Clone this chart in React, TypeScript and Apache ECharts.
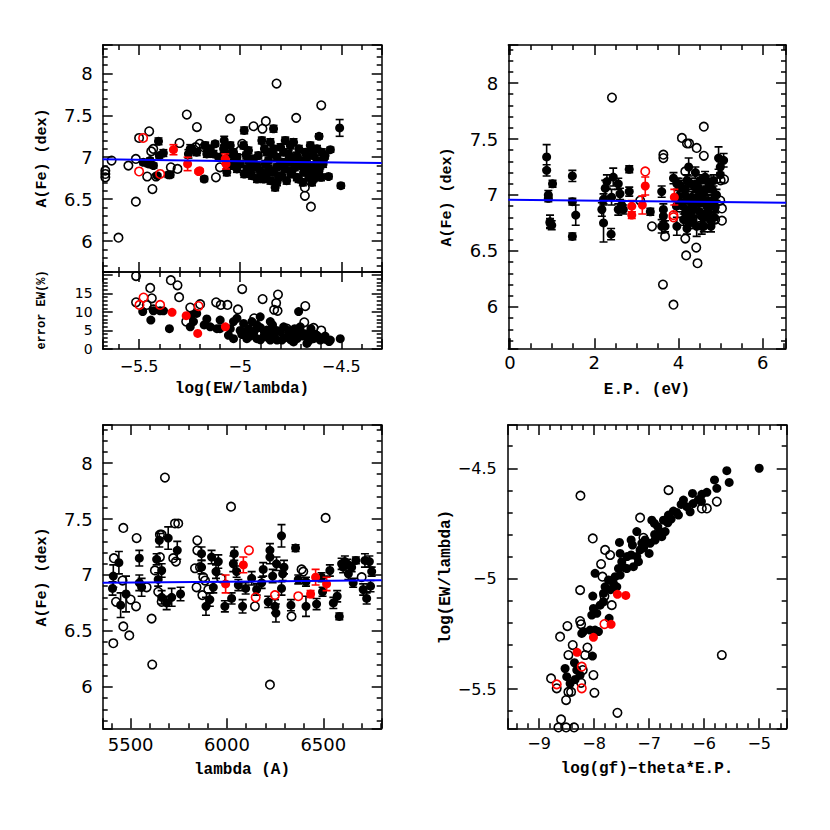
import React, { useEffect, useRef } from "react";
import * as echarts from "echarts";

// ---------- Panel 1: A(Fe) vs log(EW/lambda) ----------
const p1Used: number[][] = [
  [-5.404, 7.19, 0.04], [-5.38, 7.05, 0.04], [-5.355, 6.79, 0.03], [-5.346, 6.79, 0.03],
  [-5.479, 6.94, 0.03], [-5.454, 6.92, 0.03], [-5.429, 6.9, 0.03], [-5.446, 6.96, 0.03],
  [-5.41, 6.78, 0.02], [-5.4, 7.02, 0.03], [-5.247, 7.1, 0.05], [-5.239, 7.1, 0.04],
  [-5.215, 7.06, 0.04], [-5.256, 7.04, 0.05], [-5.178, 6.74, 0.03], [-5.173, 7.14, 0.04],
  [-5.148, 7.1, 0.03], [-5.124, 7.16, 0.03], [-5.165, 7.04, 0.04], [-5.132, 7.04, 0.04],
  [-5.107, 7.0, 0.04], [-5.079, 7.2, 0.05], [-5.082, 7.1, 0.04], [-5.049, 7.14, 0.04],
  [-5.033, 7.06, 0.04], [-5.016, 7.0, 0.04], [-5.041, 6.9, 0.04], [-5.016, 6.86, 0.04],
  [-5.066, 6.82, 0.04], [-4.98, 7.32, 0.04], [-4.983, 7.14, 0.04], [-4.959, 7.08, 0.04],
  [-4.934, 6.98, 0.04], [-4.917, 6.9, 0.04], [-4.901, 6.84, 0.04], [-4.942, 6.78, 0.04],
  [-4.967, 6.86, 0.04], [-4.884, 6.74, 0.04], [-4.893, 7.2, 0.04], [-4.868, 7.06, 0.04],
  [-4.876, 6.92, 0.04], [-4.917, 6.74, 0.04], [-4.835, 7.34, 0.04], [-4.851, 7.18, 0.04],
  [-4.835, 7.1, 0.04], [-4.818, 7.0, 0.04], [-4.802, 6.9, 0.04], [-4.835, 6.82, 0.04],
  [-4.794, 6.78, 0.04], [-4.818, 6.7, 0.04], [-4.827, 6.64, 0.04], [-4.86, 6.86, 0.04],
  [-4.785, 7.06, 0.04], [-4.777, 7.2, 0.04], [-4.752, 7.14, 0.04], [-4.736, 7.18, 0.04],
  [-4.719, 7.02, 0.04], [-4.703, 6.9, 0.04], [-4.744, 6.84, 0.04], [-4.686, 6.82, 0.04],
  [-4.711, 6.74, 0.04], [-4.728, 6.96, 0.04], [-4.678, 7.06, 0.04], [-4.653, 7.14, 0.04],
  [-4.637, 7.02, 0.04], [-4.62, 6.96, 0.04], [-4.604, 6.9, 0.04], [-4.662, 6.84, 0.04],
  [-4.629, 6.8, 0.04], [-4.596, 7.06, 0.04], [-4.645, 6.7, 0.04], [-4.587, 6.98, 0.04],
  [-4.61, 7.25, 0.03], [-4.554, 7.09, 0.03], [-4.563, 6.77, 0.03], [-4.508, 7.35, 0.1],
  [-4.502, 6.66, 0.03], [-4.637, 6.74, 0.03], [-4.95, 6.94, 0.04], [-4.76, 6.94, 0.04],
  [-4.96, 6.96, 0.04], [-4.95, 6.82, 0.04], [-4.93, 6.88, 0.04], [-4.91, 7.02, 0.04],
  [-4.9, 6.78, 0.04], [-4.88, 7.1, 0.04], [-4.87, 6.8, 0.04], [-4.86, 6.96, 0.04],
  [-4.85, 6.72, 0.04], [-4.84, 7.04, 0.04], [-4.82, 6.88, 0.04], [-4.81, 6.76, 0.04],
  [-4.8, 7.12, 0.04], [-4.79, 6.94, 0.04], [-4.78, 6.86, 0.04], [-4.77, 6.72, 0.04],
  [-4.76, 7.04, 0.04], [-4.75, 6.8, 0.04], [-4.74, 6.98, 0.04], [-4.73, 6.88, 0.04],
  [-4.72, 6.76, 0.04], [-4.71, 7.1, 0.04], [-4.7, 6.96, 0.04], [-4.69, 6.7, 0.04],
  [-4.68, 6.92, 0.04], [-4.67, 7.0, 0.04], [-4.66, 6.76, 0.04], [-4.65, 6.9, 0.04],
  [-4.64, 7.08, 0.04], [-4.63, 6.86, 0.04], [-4.62, 7.1, 0.04], [-4.61, 6.84, 0.04],
  [-4.6, 6.76, 0.04], [-4.59, 6.92, 0.04], [-4.58, 7.02, 0.04], [-5.05, 7.04, 0.04],
  [-5.0, 6.92, 0.04], [-4.98, 6.8, 0.04], [-5.03, 6.96, 0.04], [-4.97, 7.02, 0.04],
];
const p1Rejected: number[][] = [
  [-5.602, 6.04], [-5.516, 6.47], [-5.434, 6.62], [-5.264, 7.51], [-5.214, 7.36],
  [-5.05, 7.46], [-4.934, 7.37], [-4.873, 7.43], [-4.723, 7.47], [-4.599, 7.62],
  [-4.82, 7.88], [-5.45, 7.31], [-5.5, 7.23], [-5.3, 7.17], [-5.553, 6.9],
  [-5.516, 6.98], [-5.636, 6.96], [-5.667, 6.84], [-5.667, 6.76], [-5.667, 6.8],
  [-5.46, 6.77], [-5.416, 6.77], [-5.343, 6.88], [-5.31, 6.86], [-5.12, 6.76],
  [-5.44, 7.07], [-5.43, 7.1], [-5.2, 7.16], [-4.99, 7.16], [-4.89, 7.34],
  [-4.68, 6.64], [-4.68, 6.54], [-4.65, 6.41], [-5.1, 6.88], [-5.22, 7.12],
  [-5.18, 7.12], [-5.0, 7.08],
];
const p1RedUsed: number[][] = [
  [-5.33, 7.09, 0.06], [-5.26, 6.92, 0.08], [-5.206, 6.83, 0.02], [-5.2, 6.84, 0.02],
  [-5.074, 6.98, 0.06], [-5.07, 6.92, 0.06],
];
const p1RedRejected: number[][] = [[-5.48, 7.23], [-5.5, 6.83], [-5.396, 6.8]];
const p1Fit: number[][] = [[-5.68, 6.975], [-4.3, 6.93]];

// ---------- Panel 1b: error EW(%) vs log(EW/lambda) ----------
const errUsed: number[][] = [
  [-5.482, 10.1], [-5.442, 7.8], [-5.429, 10.3], [-5.396, 10.3], [-5.379, 10.3],
  [-5.35, 5.5], [-5.247, 6.0], [-5.231, 7.4], [-5.215, 9.6], [-5.239, 9.2],
  [-5.165, 8.1], [-5.178, 6.5], [-5.148, 6.0], [-5.115, 5.5], [-5.099, 7.8],
  [-5.049, 5.5], [-5.058, 3.7], [-5.033, 2.8], [-5.016, 8.3], [-4.992, 3.9],
  [-4.983, 6.9], [-4.959, 5.5], [-4.934, 4.2], [-4.917, 6.5], [-4.901, 8.7],
  [-4.884, 3.3], [-4.868, 5.1], [-4.851, 7.4], [-4.835, 3.7], [-4.818, 2.4],
  [-4.802, 4.6], [-4.785, 6.0], [-4.794, 2.4], [-4.851, 2.4], [-4.917, 2.8],
  [-4.967, 2.8], [-4.744, 4.2], [-4.719, 2.8], [-4.711, 10.1], [-4.703, 6.0],
  [-4.686, 4.2], [-4.67, 3.3], [-4.653, 4.6], [-4.637, 2.8], [-4.62, 3.7],
  [-4.604, 2.4], [-4.579, 2.6], [-4.554, 2.4], [-4.505, 2.8], [-4.736, 1.9],
  [-4.67, 1.5], [-4.769, 3.3], [-4.942, 7.4], [-5.033, 7.4], [-5.0, 5.0],
  [-4.9, 5.8], [-4.76, 5.0], [-4.6, 3.0], [-4.85, 4.5], [-5.1, 5.5],
  [-4.98, 4.5], [-4.95, 3.5], [-4.92, 5.5], [-4.88, 4.5], [-4.86, 3.0],
  [-4.82, 5.0], [-4.78, 3.0], [-4.75, 2.5], [-4.72, 4.0], [-4.69, 3.5],
  [-4.66, 2.2], [-4.63, 4.0], [-4.61, 3.0], [-4.58, 3.5], [-4.56, 2.0],
  [-4.9, 2.5], [-4.84, 6.5], [-4.73, 5.5], [-4.65, 5.5],
];
const errRejected: number[][] = [
  [-5.515, 19.7], [-5.445, 16.5], [-5.343, 18.6], [-5.31, 17.2], [-5.302, 14.0],
  [-5.437, 13.7], [-5.515, 12.6], [-5.462, 11.9], [-5.429, 10.7], [-5.247, 11.2],
  [-5.198, 12.1], [-5.267, 7.4], [-5.119, 12.6], [-5.096, 11.9], [-5.063, 11.9],
  [-5.011, 10.7], [-4.99, 16.2], [-4.889, 13.5], [-4.813, 14.7], [-4.822, 12.4],
  [-4.832, 10.6], [-4.815, 10.3], [-4.678, 11.6], [-4.931, 8.3], [-4.683, 7.2],
  [-4.637, 5.7], [-4.599, 5.0], [-4.769, 5.5],
];
const errRedUsed: number[][] = [[-5.337, 9.9], [-5.267, 9.0], [-5.21, 4.2], [-5.073, 6.0]];
const errRedRejected: number[][] = [[-5.478, 13.9], [-5.498, 11.9], [-5.396, 11.9], [-5.206, 11.6]];
const errTickLabels = [0, 5, 10, 15];

// ---------- Panel 2: A(Fe) vs E.P. ----------
const p3Used: number[][] = [
  [0.87, 7.34, 0.11], [0.87, 7.22, 0.05], [0.91, 7.0, 0.04], [0.91, 6.97, 0.03],
  [1.01, 7.1, 0.03], [0.95, 6.76, 0.06], [0.99, 6.73, 0.04], [0.95, 6.75, 0.04],
  [1.48, 7.17, 0.05], [1.48, 6.94, 0.03], [1.56, 6.82, 0.09], [1.48, 6.63, 0.03],
  [2.18, 6.87, 0.06], [2.22, 6.75, 0.17], [2.22, 6.96, 0.05], [2.26, 7.06, 0.07],
  [2.3, 7.12, 0.06], [2.4, 6.65, 0.05], [2.45, 7.16, 0.08], [2.41, 6.98, 0.07],
  [2.57, 7.1, 0.05], [2.61, 7.01, 0.05], [2.57, 6.87, 0.05], [2.65, 6.91, 0.04],
  [2.83, 7.23, 0.03], [2.83, 7.03, 0.04], [2.69, 6.87, 0.04], [3.33, 6.85, 0.03],
  [3.6, 7.03, 0.05], [3.64, 6.87, 0.05], [3.6, 6.72, 0.06], [3.68, 6.72, 0.05],
  [3.64, 6.81, 0.05], [3.88, 7.15, 0.05], [3.96, 7.1, 0.05], [3.96, 6.72, 0.08],
  [4.0, 6.99, 0.05], [4.08, 6.93, 0.05], [4.16, 7.05, 0.05], [4.2, 7.13, 0.05],
  [4.24, 7.25, 0.08], [4.28, 6.87, 0.05], [4.31, 6.78, 0.05], [4.31, 6.98, 0.05],
  [4.39, 7.07, 0.05], [4.43, 6.72, 0.09], [4.47, 6.93, 0.05], [4.51, 7.13, 0.05],
  [4.55, 6.81, 0.05], [4.59, 7.01, 0.05], [4.55, 6.72, 0.07], [4.67, 6.9, 0.05],
  [4.71, 7.07, 0.05], [4.75, 6.78, 0.05], [4.79, 6.95, 0.05], [4.77, 6.72, 0.05],
  [4.83, 7.13, 0.05], [4.16, 6.84, 0.05], [4.24, 6.75, 0.05], [4.35, 6.87, 0.05],
  [4.63, 7.16, 0.05], [4.12, 6.78, 0.05], [4.95, 7.33, 0.1], [5.07, 7.31, 0.06],
  [4.99, 7.25, 0.05], [4.99, 7.18, 0.07], [4.87, 6.89, 0.05], [4.45, 6.98, 0.05],
  [4.62, 6.95, 0.05], [4.7, 6.85, 0.05], [4.05, 7.08, 0.05], [4.4, 7.2, 0.05],
  [4.1, 6.9, 0.05], [4.15, 7.0, 0.05], [4.2, 6.8, 0.05], [4.25, 6.95, 0.05],
  [4.3, 7.1, 0.05], [4.35, 6.75, 0.05], [4.4, 6.92, 0.05], [4.45, 7.08, 0.05],
  [4.5, 6.85, 0.05], [4.55, 6.95, 0.05], [4.6, 6.8, 0.05], [4.65, 7.05, 0.05],
  [4.7, 6.95, 0.05], [4.75, 6.9, 0.05], [4.8, 7.05, 0.05], [4.85, 6.8, 0.05],
  [4.3, 6.85, 0.05], [4.5, 7.02, 0.05], [4.7, 7.12, 0.05], [4.2, 6.7, 0.05],
  [4.6, 6.72, 0.05], [4.9, 7.0, 0.05], [3.95, 6.9, 0.05], [4.0, 7.1, 0.05],
  [4.85, 6.95, 0.05],
];
const p3Rejected: number[][] = [
  [2.42, 7.87], [4.6, 7.61], [4.08, 7.51], [4.2, 7.46], [4.25, 7.46], [4.43, 7.42],
  [4.6, 7.35], [3.64, 7.36], [3.64, 7.33], [4.16, 7.21], [5.08, 7.14], [5.0, 7.13],
  [4.99, 6.95], [5.03, 6.88], [5.03, 6.77], [3.37, 6.72], [3.68, 6.63], [4.16, 6.61],
  [4.42, 6.53], [4.18, 6.46], [4.45, 6.39], [3.63, 6.2], [3.88, 6.02], [3.09, 6.95],
  [4.87, 6.78],
];
const p3RedUsed: number[][] = [
  [3.21, 7.08, 0.08], [3.14, 6.91, 0.08], [2.89, 6.9, 0.05], [2.89, 6.82, 0.03], [3.9, 6.98, 0.07],
];
const p3RedRejected: number[][] = [[3.21, 7.21], [3.88, 6.82], [3.88, 6.8]];
const p3Fit: number[][] = [[-0.04, 6.958], [6.55, 6.931]];

// ---------- Panel 3: A(Fe) vs lambda ----------
const p4Used: number[][] = [
  [5410, 6.99, 0.1], [5406, 6.88, 0.06], [5439, 7.11, 0.1], [5448, 6.73, 0.11],
  [5476, 6.83, 0.16], [5545, 7.15, 0.07], [5545, 6.93, 0.07], [5557, 6.89, 0.08],
  [5635, 7.14, 0.05], [5649, 7.31, 0.06], [5661, 7.04, 0.06], [5643, 6.96, 0.06],
  [5661, 6.8, 0.06], [5695, 7.33, 0.1], [5687, 6.75, 0.06], [5713, 6.8, 0.08],
  [5742, 7.22, 0.08], [5759, 6.83, 0.06], [5891, 6.72, 0.08], [5868, 7.19, 0.06],
  [5868, 7.07, 0.06], [5911, 6.78, 0.06], [5920, 7.16, 0.06], [5929, 6.89, 0.05],
  [5943, 7.03, 0.06], [5955, 7.12, 0.06], [5989, 6.72, 0.05], [6024, 6.79, 0.05],
  [6033, 7.1, 0.07], [6038, 7.19, 0.06], [6050, 7.03, 0.05], [6059, 6.91, 0.05],
  [6081, 6.72, 0.06], [6097, 6.88, 0.05], [6128, 6.97, 0.06], [6154, 6.87, 0.05],
  [6180, 6.93, 0.05], [6188, 7.05, 0.06], [6214, 6.76, 0.05], [6223, 7.22, 0.06],
  [6223, 7.16, 0.06], [6237, 6.99, 0.06], [6249, 6.72, 0.06], [6254, 6.66, 0.08],
  [6257, 7.1, 0.06], [6283, 7.35, 0.1], [6289, 7.01, 0.06], [6296, 7.07, 0.06],
  [6283, 6.88, 0.06], [6332, 6.73, 0.05], [6356, 7.24, 0.03], [6370, 6.96, 0.04],
  [6410, 6.72, 0.09], [6410, 6.94, 0.04], [6465, 6.74, 0.05], [6491, 6.98, 0.04],
  [6496, 6.85, 0.04], [6534, 7.04, 0.05], [6552, 6.75, 0.05], [6572, 6.81, 0.05],
  [6583, 6.63, 0.03], [6595, 7.1, 0.05], [6612, 7.12, 0.05], [6630, 7.01, 0.05],
  [6647, 7.07, 0.04], [6655, 6.93, 0.04], [6669, 7.13, 0.03], [6707, 6.87, 0.05],
  [6716, 7.13, 0.06], [6739, 7.12, 0.05], [6725, 6.79, 0.05], [6745, 6.9, 0.05],
  [6751, 7.03, 0.04], [6624, 7.1, 0.04], [6603, 7.07, 0.05],
];
const p4Rejected: number[][] = [
  [6021, 7.61], [6512, 7.51], [5462, 7.42], [5531, 7.33], [5413, 7.15], [5410, 6.39],
  [5462, 6.54], [5493, 6.46], [5609, 6.61], [5612, 6.2], [5424, 6.76], [5458, 6.95],
  [5500, 6.78], [5528, 6.72], [5583, 6.89], [5626, 7.04], [5652, 7.36], [5661, 7.36],
  [5730, 7.46], [5747, 7.46], [5721, 7.15], [5735, 7.12], [5643, 6.85], [5661, 6.76],
  [5652, 7.16], [5846, 7.31], [5846, 7.22], [5834, 7.06], [5842, 6.89], [5860, 7.07],
  [5877, 6.98], [5886, 6.95], [5872, 6.82], [5903, 6.87], [6145, 6.72], [6335, 6.63],
  [6387, 7.05], [6699, 6.98], [5969, 6.97], [6396, 7.03], [5678, 7.87], [6223, 6.02],
];
const p4RedUsed: number[][] = [
  [5993, 6.92, 0.08], [6085, 7.09, 0.07], [6434, 6.83, 0.03], [6460, 6.98, 0.07], [6517, 6.92, 0.06],
];
const p4RedRejected: number[][] = [[6114, 7.22], [6149, 6.8], [6249, 6.82], [6370, 6.81]];
const p4Fit: number[][] = [[5355, 6.931], [6803, 6.952]];

// ---------- Panel 4: log(EW/lambda) vs log(gf)-theta*E.P. ----------
const p5Used: number[][] = [
  [-5.0, -4.5], [-5.588, -4.511], [-5.545, -4.564], [-5.812, -4.553], [-5.77, -4.591],
  [-5.951, -4.609], [-6.042, -4.618], [-6.212, -4.614], [-6.103, -4.641], [-6.376, -4.644],
  [-6.315, -4.674], [-6.418, -4.664], [-6.255, -4.697], [-6.467, -4.712], [-6.558, -4.694],
  [-6.648, -4.712], [-6.661, -4.747], [-6.739, -4.735], [-6.709, -4.787], [-6.8, -4.787],
  [-6.842, -4.765], [-6.77, -4.81], [-6.951, -4.735], [-6.903, -4.75], [-6.891, -4.825],
  [-7.0, -4.886], [-6.982, -4.84], [-7.073, -4.825], [-7.133, -4.84], [-7.224, -4.787],
  [-7.327, -4.825], [-7.303, -4.848], [-7.164, -4.87], [-7.224, -4.9], [-7.194, -4.923],
  [-7.327, -4.893], [-7.285, -4.946], [-7.406, -4.954], [-7.497, -4.923], [-7.527, -4.886],
  [-7.539, -4.836], [-7.557, -4.954], [-7.527, -4.984], [-7.618, -4.991], [-7.648, -5.022],
  [-7.588, -5.037], [-7.739, -5.006], [-7.8, -5.037], [-7.83, -5.067], [-7.83, -5.105],
  [-7.891, -5.12], [-7.982, -4.976], [-8.024, -5.079], [-8.012, -5.135], [-8.042, -5.165],
  [-7.951, -5.157], [-7.727, -5.18], [-7.982, -5.233], [-8.073, -5.233], [-8.194, -5.24],
  [-8.224, -5.248], [-7.921, -5.24], [-8.03, -5.351], [-8.357, -5.381], [-8.527, -5.407],
  [-8.254, -5.437], [-8.345, -5.457], [-8.436, -5.475], [-8.315, -5.414], [-8.497, -5.444],
  [-6.5, -4.7], [-6.6, -4.73], [-6.9, -4.8], [-7.1, -4.86], [-7.4, -4.9],
  [-7.45, -4.95], [-7.7, -5.05], [-6.2, -4.66], [-6.05, -4.65],
];
const p5Rejected: number[][] = [
  [-6.648, -4.599], [-7.164, -4.724], [-8.248, -4.624], [-8.024, -4.818], [-7.8, -4.87],
  [-7.709, -4.893], [-7.873, -4.934], [-7.848, -4.991], [-8.254, -5.052], [-7.812, -5.079],
  [-7.679, -5.12], [-8.254, -5.192], [-8.236, -5.207], [-8.485, -5.215], [-8.618, -5.263],
  [-8.388, -5.301], [-8.467, -5.346], [-8.163, -5.346], [-8.121, -5.312], [-8.206, -5.414],
  [-8.012, -5.437], [-8.782, -5.452], [-8.679, -5.497], [-8.467, -5.513], [-8.418, -5.513],
  [-8.509, -5.55], [-8.236, -5.472], [-7.994, -5.517], [-5.679, -5.346], [-7.576, -5.608],
  [-8.6, -5.638], [-8.648, -5.674], [-8.509, -5.674], [-8.364, -5.674], [-5.951, -4.682],
  [-6.042, -4.682], [-5.77, -4.651], [-7.103, -4.815],
];
const p5RedUsed: number[][] = [
  [-7.576, -5.071], [-7.424, -5.076], [-7.691, -5.207], [-8.012, -5.266], [-8.309, -5.334],
];
const p5RedRejected: number[][] = [[-8.679, -5.479], [-8.224, -5.399], [-8.224, -5.497], [-7.812, -5.206]];

// ---------- axis ranges / ticks ----------
const abundRange = [5.63, 8.34];
const ewRange = [-5.68, -4.3];
const errRange = [0, 20.8];
const epRange = [-0.04, 6.55];
const lambdaRange = [5355, 6803];
const gfRange = [-9.57, -4.5];
const ewRangeY = [-5.678, -4.304];

const RED = "#ff0000";
const BLACK = "#000000";
const BLUE = "#0000ff";

const fmt = (v: number) => String(parseFloat(v.toFixed(6))).replace("-", "\u2212");

function makeAxis(gi: number, pos: string, range: number[], step: number, minor: number, label: any) {
  const line = { color: "#000", width: 1.5 };
  return {
    type: "value",
    gridIndex: gi,
    position: pos,
    min: range[0],
    max: range[1],
    minInterval: step,
    maxInterval: step,
    splitNumber: 3,
    axisLine: { show: true, onZero: false, lineStyle: line },
    axisTick: { show: true, inside: true, length: 10, lineStyle: line },
    minorTick: { show: true, splitNumber: minor, length: 5, lineStyle: line },
    splitLine: { show: false },
    minorSplitLine: { show: false },
    axisLabel: label
      ? {
          show: true,
          fontFamily: "DejaVu Sans",
          fontSize: label.fs,
          color: "#000",
          margin: label.margin,
          showMinLabel: !!label.showMin,
          showMaxLabel: false,
          formatter: label.only
            ? (v: number) => (label.only.some((t: number) => Math.abs(t - v) < 1e-6) ? fmt(v) : "")
            : fmt,
        }
      : { show: false },
  };
}

function scatter(gi: number, data: number[][], color: string, open: boolean, z: number) {
  return {
    type: "scatter",
    xAxisIndex: 2 * gi,
    yAxisIndex: 2 * gi,
    data: data.map((d) => [d[0], d[1]]),
    symbol: "circle",
    symbolSize: open ? 8.5 : 9,
    clip: true,
    silent: true,
    z,
    itemStyle: open
      ? { color: "rgba(0,0,0,0)", borderColor: color, borderWidth: 1.6, opacity: 1 }
      : { color, borderWidth: 0, opacity: 1 },
  };
}

function errbars(gi: number, data: number[][], color: string, z: number) {
  return {
    type: "custom",
    xAxisIndex: 2 * gi,
    yAxisIndex: 2 * gi,
    data,
    clip: true,
    silent: true,
    z,
    encode: { x: 0, y: 1 },
    renderItem: (params: any, api: any) => {
      const x = api.value(0);
      const y = api.value(1);
      const e = api.value(2);
      const top = api.coord([x, y + e]);
      const bot = api.coord([x, y - e]);
      const hw = 4;
      const style = { stroke: color, lineWidth: 1.6 };
      return {
        type: "group",
        children: [
          { type: "line", shape: { x1: top[0], y1: top[1], x2: bot[0], y2: bot[1] }, style },
          { type: "line", shape: { x1: top[0] - hw, y1: top[1], x2: top[0] + hw, y2: top[1] }, style },
          { type: "line", shape: { x1: bot[0] - hw, y1: bot[1], x2: bot[0] + hw, y2: bot[1] }, style },
        ],
      };
    },
  };
}

function fitLine(gi: number, data: number[][]) {
  return {
    type: "line",
    xAxisIndex: 2 * gi,
    yAxisIndex: 2 * gi,
    data,
    symbol: "none",
    silent: true,
    z: 10,
    lineStyle: { color: BLUE, width: 2 },
  };
}

function panelSeries(gi: number, used: number[][], rej: number[][], redUsed: number[][], redRej: number[][], withErr: boolean) {
  const s: any[] = [];
  s.push(scatter(gi, rej, BLACK, true, 3));
  if (withErr) s.push(errbars(gi, used, BLACK, 4));
  s.push(scatter(gi, used, BLACK, false, 5));
  if (withErr) s.push(errbars(gi, redUsed, RED, 6));
  s.push(scatter(gi, redUsed, RED, false, 7));
  s.push(scatter(gi, redRej, RED, true, 8));
  return s;
}

const titleFont = 'bold 16px "Liberation Mono"';
function title(text: string, x: number, y: number, vertical: boolean, font = titleFont) {
  return {
    type: "text",
    x,
    y,
    rotation: vertical ? Math.PI / 2 : 0,
    style: {
      text,
      font,
      fill: "#000",
      textAlign: "center",
      textVerticalAlign: "middle",
      align: "center",
      verticalAlign: "middle",
    },
  };
}

export default function App() {
  const ref = useRef<HTMLDivElement>(null);
  useEffect(() => {
    if (!ref.current) return;
    const chart = echarts.init(ref.current, undefined, { renderer: "svg" });
    const grids = [
      { left: 102.7, top: 45, width: 279, height: 227 },
      { left: 102.7, top: 272, width: 279, height: 77 },
      { left: 508.3, top: 45, width: 277.7, height: 303.3 },
      { left: 102.7, top: 425, width: 279, height: 303.3 },
      { left: 507.7, top: 425, width: 279, height: 303.3 },
    ].map((g) => ({ ...g, containLabel: false, outerBoundsMode: "none", show: false }));

    const big = { fs: 18, margin: 10 };
    const xAxis = [
      makeAxis(0, "bottom", ewRange, 0.5, 5, null),
      makeAxis(0, "top", ewRange, 0.5, 5, null),
      makeAxis(1, "bottom", ewRange, 0.5, 5, { fs: 16, margin: 9 }),
      makeAxis(1, "top", ewRange, 0.5, 5, null),
      makeAxis(2, "bottom", epRange, 2, 4, { fs: 18, margin: 5 }),
      makeAxis(2, "top", epRange, 2, 4, null),
      makeAxis(3, "bottom", lambdaRange, 500, 5, { fs: 18, margin: 7 }),
      makeAxis(3, "top", lambdaRange, 500, 5, null),
      makeAxis(4, "bottom", gfRange, 1, 5, { fs: 16, margin: 7 }),
      makeAxis(4, "top", gfRange, 1, 5, null),
    ];
    const yAxis = [
      makeAxis(0, "left", abundRange, 0.5, 5, big),
      makeAxis(0, "right", abundRange, 0.5, 5, null),
      makeAxis(1, "left", errRange, 5, 5, { fs: 14, margin: 10, showMin: true, only: errTickLabels }),
      makeAxis(1, "right", errRange, 5, 5, null),
      makeAxis(2, "left", abundRange, 0.5, 5, big),
      makeAxis(2, "right", abundRange, 0.5, 5, null),
      makeAxis(3, "left", abundRange, 0.5, 5, big),
      makeAxis(3, "right", abundRange, 0.5, 5, null),
      makeAxis(4, "left", ewRangeY, 0.5, 5, { fs: 16, margin: 11 }),
      makeAxis(4, "right", ewRangeY, 0.5, 5, null),
    ];

    const series = [
      ...panelSeries(0, p1Used, p1Rejected, p1RedUsed, p1RedRejected, true),
      fitLine(0, p1Fit),
      ...panelSeries(1, errUsed, errRejected, errRedUsed, errRedRejected, false),
      ...panelSeries(2, p3Used, p3Rejected, p3RedUsed, p3RedRejected, true),
      fitLine(2, p3Fit),
      ...panelSeries(3, p4Used, p4Rejected, p4RedUsed, p4RedRejected, true),
      fitLine(3, p4Fit),
      ...panelSeries(4, p5Used, p5Rejected, p5RedUsed, p5RedRejected, false),
    ];

    chart.setOption({
      animation: false,
      backgroundColor: "#ffffff",
      grid: grids,
      xAxis,
      yAxis,
      series,
      graphic: [
        title("A(Fe) (dex)", 42, 158, true, 'bold 15px "Liberation Mono"'),
        title("error EW(%)", 42, 310, true, 'bold 12px "Liberation Mono"'),
        title("log(EW/lambda)", 242, 389, false),
        title("A(Fe) (dex)", 447, 197, true, 'bold 15px "Liberation Mono"'),
        title("E.P. (eV)", 647, 390, false),
        title("A(Fe) (dex)", 42, 577, true, 'bold 15px "Liberation Mono"'),
        title("lambda (A)", 242, 770, false),
        title("log(EW/lambda)", 446, 577, true),
        title("log(gf)\u2212theta*E.P.", 647, 769, false),
      ],
    });
    return () => chart.dispose();
  }, []);
  return (
    <div
      ref={ref}
      style={{ position: "absolute", left: 0, top: 0, width: 830, height: 830, background: "#fff" }}
    />
  );
}
